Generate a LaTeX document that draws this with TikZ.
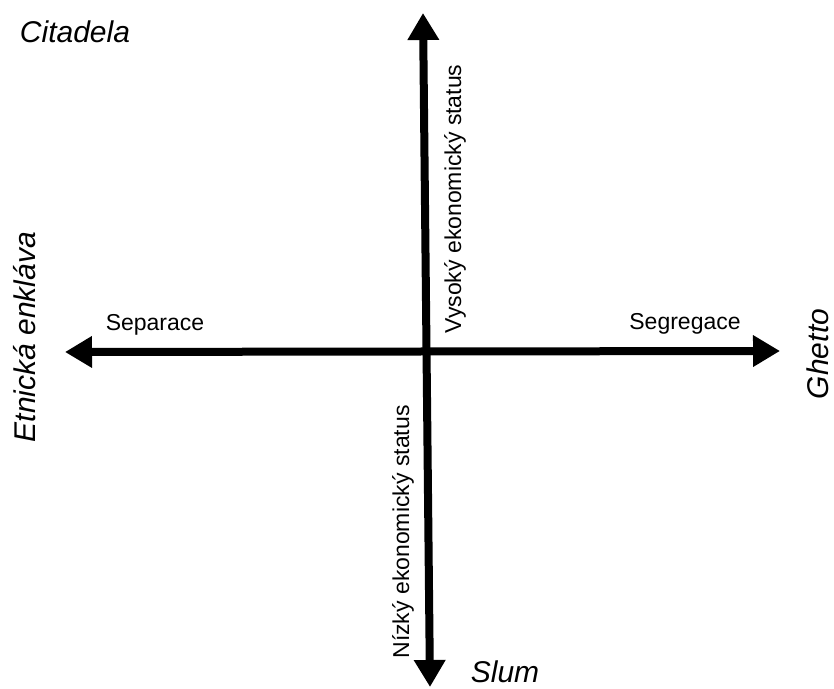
\documentclass[tikz,border=0pt]{standalone}
\usepackage{fontspec}
\setmainfont{Liberation Sans}
\usetikzlibrary{arrows.meta,positioning}

\tikzset{
  axis/.style={line width=8pt,<->},
  small/.style={font=\fontsize{23}{27}\selectfont,inner sep=0pt,anchor=base},
  big/.style={font=\fontsize{30}{36}\selectfont\itshape,inner sep=0pt,anchor=base}
}

\begin{document}
\begin{tikzpicture}[x=1pt,y=1pt,>={Triangle[length=27pt,width=30pt]}]
\useasboundingbox (0,0) rectangle (834,688);

% --- axes ---
\coordinate (top) at (423,675);
\coordinate (bottom) at (430,1);
\coordinate (left) at (65,336);
\coordinate (right) at (780,337);
\draw[axis] (bottom) -- (top);
\draw[axis] (left) -- (right);

% --- axis labels ---
\node (separace) at (155,357) [small] {Separace};
\node (segregace) at (685,358) [small] {Segregace};
\node (vysoky) at (461,489) [small,rotate=90] {Vysoký ekonomický status};
\node (nizky) at (409,156) [small,rotate=90] {Nízký ekonomický status};

% --- corners ---
\node (citadela) at (75,645) [big] {Citadela};
\node (slum) at (505,6) [big] {Slum};
\node (ghetto) at (828,334) [big,rotate=90] {Ghetto};
\node (enklava) at (35,351) [big,rotate=90] {Etnická enkláva};

\end{tikzpicture}
\end{document}
